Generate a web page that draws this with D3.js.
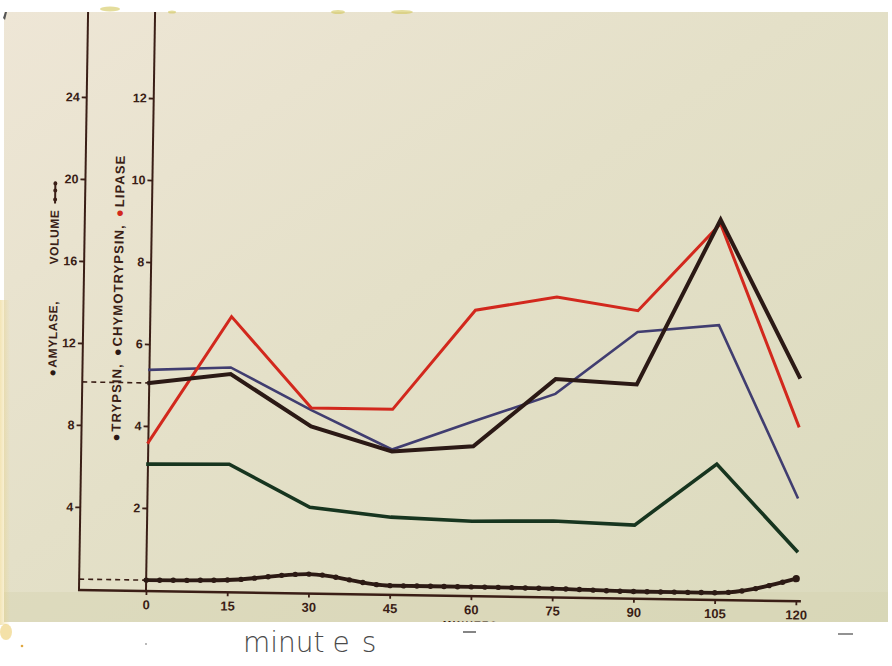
<!DOCTYPE html>
<html>
<head>
<meta charset="utf-8">
<script src="https://cdn.jsdelivr.net/npm/d3@7"></script>
<style>
  html, body { margin: 0; padding: 0; background: #fff; }
  svg { display: block; }
</style>
</head>
<body>
<script>
// Sampling times (minutes after start)
const minutes = [0, 15, 30, 45, 60, 75, 90, 105, 120];

// Left-axis series
const amylase = [10.1, 10.6, 8.1, 6.95, 7.26, 10.6, 10.4, 18.5, 10.9];
const volume  = [0.48, 0.55, 0.9, 0.4, 0.4, 0.38, 0.3, 0.3, 1.05];

// Right-axis series
const trypsin      = [3.07, 3.1, 2.08, 1.87, 1.8, 1.84, 1.77, 3.29, 1.2];
const chymotrypsin = [5.37, 5.46, 4.45, 3.52, 4.24, 4.94, 6.48, 6.68, 2.51];
const lipase       = [3.6, 6.7, 4.5, 4.5, 6.95, 7.3, 7.0, 9.15, 4.25];

// Axis ticks
const leftTicks  = [4, 8, 12, 16, 20, 24];
const rightTicks = [2, 4, 6, 8, 10, 12];
const xTicks     = [0, 15, 30, 45, 60, 75, 90, 105, 120];

const W = 892, H = 666;
const ink = "#3a1e16";

const svg = d3.select("body").append("svg")
  .attr("width", W).attr("height", H)
  .attr("viewBox", `0 0 ${W} ${H}`);

const defs = svg.append("defs");
const paper = defs.append("linearGradient").attr("id", "paper")
  .attr("x1", "0").attr("y1", "0").attr("x2", "1").attr("y2", "1");
paper.append("stop").attr("offset", "0").attr("stop-color", "#eee6d6");
paper.append("stop").attr("offset", "0.45").attr("stop-color", "#e4e0c8");
paper.append("stop").attr("offset", "1").attr("stop-color", "#dbdabd");

const edge = defs.append("linearGradient").attr("id", "stain")
  .attr("x1", "0").attr("y1", "0").attr("x2", "1").attr("y2", "0");
edge.append("stop").attr("offset", "0").attr("stop-color", "#e9cf78").attr("stop-opacity", 0.55);
edge.append("stop").attr("offset", "1").attr("stop-color", "#e9cf78").attr("stop-opacity", 0);

// Paper
svg.append("rect").attr("x", 0).attr("y", 0).attr("width", W).attr("height", H).attr("fill", "#fff");
svg.append("rect").attr("x", 4).attr("y", 12).attr("width", 884).attr("height", 610).attr("fill", "url(#paper)");
svg.append("rect").attr("x", 4).attr("y", 592).attr("width", 884).attr("height", 30)
  .attr("fill", "#d4d2ae").attr("opacity", 0.4);

// Chart group; the drawing sits slightly turned on the sheet
const ox = 146, oy = 590;
const g = svg.append("g").attr("transform", `rotate(0.9, ${ox}, ${oy})`);

const x = d3.scaleLinear().domain([0, 120]).range([ox, ox + 650]);
const yR = d3.scaleLinear().domain([0, 12]).range([oy, oy - 492]);
const yL = d3.scaleLinear().domain([0, 24]).range([oy, oy - 492]);
const leftX = ox - 67;

const fontTick = "'Liberation Sans', Arial, sans-serif";

// Axis lines
g.append("line").attr("x1", leftX).attr("x2", leftX).attr("y1", oy + 1).attr("y2", 0)
  .attr("stroke", ink).attr("stroke-width", 2);
g.append("line").attr("x1", ox).attr("x2", ox).attr("y1", oy + 1).attr("y2", 0)
  .attr("stroke", ink).attr("stroke-width", 2);
g.append("line").attr("x1", leftX - 1).attr("x2", x(120) + 5).attr("y1", oy + 1).attr("y2", oy + 1)
  .attr("stroke", ink).attr("stroke-width", 2.4);

function styleAxis(sel, size) {
  sel.select(".domain").remove();
  sel.selectAll(".tick line").attr("stroke", ink).attr("stroke-width", 1.8);
  sel.selectAll(".tick text").attr("fill", ink)
    .attr("font-family", fontTick).attr("font-weight", "bold").attr("font-size", size);
}

g.append("g").attr("transform", `translate(${leftX},0)`)
  .call(d3.axisLeft(yL).tickValues(leftTicks).tickSize(5).tickPadding(2))
  .call(s => styleAxis(s, 12.5));
g.append("g").attr("transform", `translate(${ox},0)`)
  .call(d3.axisLeft(yR).tickValues(rightTicks).tickSize(5).tickPadding(2))
  .call(s => styleAxis(s, 12.5));
g.append("g").attr("transform", `translate(0,${oy + 1})`)
  .call(d3.axisBottom(x).tickValues(xTicks).tickSize(4).tickPadding(5))
  .call(s => styleAxis(s, 13));

// Axis title, mostly hidden by the lower sheet edge
g.append("text").attr("x", x(60)).attr("y", oy + 33)
  .attr("text-anchor", "middle").attr("fill", ink)
  .attr("font-family", fontTick).attr("font-weight", "bold").attr("font-size", 10)
  .attr("letter-spacing", 1.5).text("MINUTES");

// Dashed guides at the starting amylase and volume levels
[amylase[0], volume[0]].forEach(v => {
  g.append("line").attr("x1", leftX).attr("x2", ox).attr("y1", yL(v)).attr("y2", yL(v))
    .attr("stroke", ink).attr("stroke-width", 1.6).attr("stroke-dasharray", "5,4");
});

// Series lines
const pts = (vals, ys) => vals.map((v, i) => [x(minutes[i]), ys(v)]);
const line = d3.line();
const smooth = d3.line().curve(d3.curveMonotoneX);

function drawLine(vals, ys, color, width, gen) {
  return g.append("path").attr("d", (gen || line)(pts(vals, ys)))
    .attr("fill", "none").attr("stroke", color).attr("stroke-width", width)
    .attr("stroke-linejoin", "miter").attr("stroke-linecap", "square");
}

drawLine(trypsin, yR, "#17351f", 3.6);

// Volume: smooth curve with bead markers every 2.5 minutes
const volPath = drawLine(volume, yL, "#2c1a14", 3.8, smooth);
const node = volPath.node();
const total = node.getTotalLength();
function pointAtX(px) {
  let lo = 0, hi = total;
  for (let k = 0; k < 30; k++) {
    const mid = (lo + hi) / 2;
    if (node.getPointAtLength(mid).x < px) lo = mid; else hi = mid;
  }
  return node.getPointAtLength((lo + hi) / 2);
}
const beadTimes = d3.range(0, 120.01, 2.5);
g.append("g").selectAll("circle").data(beadTimes).join("circle")
  .attr("cx", d => pointAtX(x(d)).x)
  .attr("cy", d => pointAtX(x(d)).y)
  .attr("r", d => (d === 120 ? 3.6 : 2.7))
  .attr("fill", "#2c1a14");

drawLine(chymotrypsin, yR, "#403d70", 2.6);
drawLine(lipase, yR, "#d2281d", 3.0);
drawLine(amylase, yL, "#2b1915", 4.0);

// Axis legends (vertical)
function vText(px, py, parts, size, spacing) {
  const t = g.append("text").attr("transform", `translate(${px},${py}) rotate(-90)`)
    .attr("font-family", fontTick).attr("font-weight", "bold")
    .attr("font-size", size).attr("letter-spacing", spacing).attr("fill", ink);
  parts.forEach(p => t.append("tspan").attr("fill", p.c || ink).attr("dx", p.dx || 0).text(p.t));
  return t;
}
vText(118, 442, [
  { t: "●", c: "#2b1915" }, { t: "TRYPSIN,", dx: 1 },
  { t: "●", c: "#2b1915", dx: 7 }, { t: "CHYMOTRYPSIN,", dx: 1 },
  { t: "●", c: "#d2281d", dx: 7 }, { t: "LIPASE", dx: 1 }
], 13, 1.1);
vText(53, 378, [{ t: "●", c: "#2b1915" }, { t: "AMYLASE,", dx: 1 }], 12, 0.6);
vText(53, 266, [{ t: "VOLUME" }], 12, 0.6);

// Volume legend marker
g.append("line").attr("x1", 49).attr("x2", 49).attr("y1", 205).attr("y2", 183)
  .attr("stroke", ink).attr("stroke-width", 2);
[201, 192, 185].forEach(cy => g.append("circle").attr("cx", 49).attr("cy", cy).attr("r", 2).attr("fill", ink));

// Sheet margins and edge marks
svg.append("rect").attr("x", 0).attr("y", 0).attr("width", W).attr("height", 12).attr("fill", "#fff");
svg.append("rect").attr("x", 0).attr("y", 622).attr("width", W).attr("height", 44).attr("fill", "#fff");
svg.append("rect").attr("x", 888).attr("y", 0).attr("width", 4).attr("height", H).attr("fill", "#fff");
svg.append("rect").attr("x", 0).attr("y", 0).attr("width", 4).attr("height", H).attr("fill", "#fff");
svg.append("rect").attr("x", 0).attr("y", 300).attr("width", 10).attr("height", 325).attr("fill", "url(#stain)");
svg.append("ellipse").attr("cx", 6).attr("cy", 632).attr("rx", 6).attr("ry", 8).attr("fill", "#ebc860").attr("opacity", 0.55);
svg.append("circle").attr("cx", 22).attr("cy", 646).attr("r", 1.3).attr("fill", "#e0a840");
[[110, 9, 10, 2.5], [338, 12, 7, 2], [402, 12, 11, 2], [172, 12, 4, 1.5]].forEach(([cx, cy, rx, ry]) =>
  svg.append("ellipse").attr("cx", cx).attr("cy", cy).attr("rx", rx).attr("ry", ry)
    .attr("fill", "#d2c65a").attr("opacity", 0.6));
svg.append("path").attr("d", "M3,18 L5,12 L7,12 L5,20 Z").attr("fill", "#555");

svg.append("line").attr("x1", 463).attr("x2", 476).attr("y1", 632).attr("y2", 632)
  .attr("stroke", "#666").attr("stroke-width", 1.6);
svg.append("line").attr("x1", 838).attr("x2", 853).attr("y1", 634).attr("y2", 634)
  .attr("stroke", "#777").attr("stroke-width", 1.6);
svg.append("circle").attr("cx", 146).attr("cy", 644).attr("r", 0.9).attr("fill", "#999");

// Caption below the sheet
const cap = svg.append("text").attr("x", 243).attr("y", 652)
  .attr("font-family", "'DejaVu Sans', sans-serif").attr("font-weight", 300)
  .attr("font-size", 28).attr("fill", "#4a4a4a");
cap.append("tspan").text("minut");
cap.append("tspan").attr("dx", 8).text("e");
cap.append("tspan").attr("dx", 12).text("s");
</script>
</body>
</html>
